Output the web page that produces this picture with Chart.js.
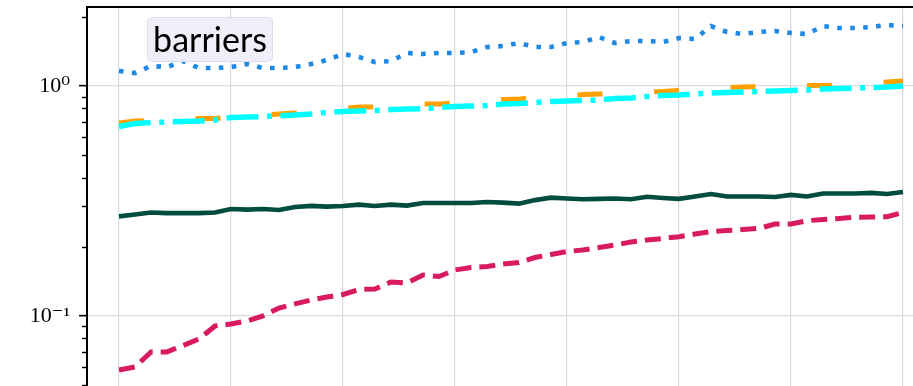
<!DOCTYPE html>
<html>
<head>
<meta charset="utf-8">
<script src="https://cdn.jsdelivr.net/npm/chart.js@4.4.1/dist/chart.umd.min.js"></script>
<style>
  html, body { margin: 0; padding: 0; background: #fff; overflow: hidden; }
  #wrap { position: relative; width: 913px; height: 386px; }
  #legendBox {
    position: absolute; left: 147px; top: 17px; width: 124px; height: 43px;
    border: 1px solid #dcdcef; border-radius: 5px;
    background: rgba(238, 238, 250, 0.92);
    font-family: Lato, "Noto Sans", sans-serif; font-size: 34px; color: #000;
    text-align: center; line-height: 42px;
  }
</style>
</head>
<body>
<div id="wrap">
  <canvas id="chart"></canvas>
  <div id="legendBox">barriers</div>
</div>
<script>
// x positions (step index)
const steps = [0,1,2,3,4,5,6,7,8,9,10,11,12,13,14,15,16,17,18,19,20,21,22,23,24,
  25,26,27,28,29,30,31,32,33,34,35,36,37,38,39,40,41,42,43,44,45,46,47,48,49];

const blueDotted = [1.162,1.139,1.222,1.209,1.284,1.197,1.197,1.209,1.246,1.197,
  1.197,1.209,1.246,1.297,1.378,1.337,1.271,1.284,1.392,1.378,
  1.392,1.392,1.405,1.477,1.492,1.538,1.477,1.477,1.538,1.553,
  1.633,1.538,1.569,1.569,1.553,1.617,1.601,1.823,1.718,1.683,
  1.718,1.735,1.700,1.683,1.823,1.787,1.787,1.805,1.842,1.823];

const orangeDashed = [0.690,0.704,0.708,0.712,0.719,0.722,0.722,0.733,0.741,0.748,
  0.756,0.763,0.775,0.787,0.798,0.810,0.810,0.818,0.827,0.835,
  0.835,0.844,0.852,0.865,0.874,0.878,0.887,0.896,0.909,0.918,
  0.923,0.928,0.932,0.942,0.947,0.956,0.966,0.975,0.985,0.990,
  0.995,1.000,1.000,1.005,1.005,1.010,1.020,1.030,1.041,1.051];

const cyanDashDot = [0.667,0.687,0.694,0.697,0.701,0.704,0.712,0.730,0.733,0.737,
  0.741,0.748,0.756,0.767,0.775,0.779,0.782,0.790,0.794,0.798,
  0.806,0.815,0.818,0.823,0.835,0.839,0.848,0.856,0.861,0.865,
  0.869,0.882,0.887,0.900,0.909,0.914,0.923,0.932,0.937,0.942,
  0.947,0.951,0.956,0.961,0.970,0.975,0.980,0.985,0.990,1.000];

const greenSolid = [0.271,0.276,0.282,0.280,0.280,0.280,0.282,0.292,0.290,0.292,
  0.289,0.298,0.301,0.299,0.301,0.305,0.301,0.305,0.302,0.310,
  0.310,0.310,0.310,0.313,0.311,0.308,0.319,0.327,0.324,0.322,
  0.323,0.324,0.322,0.330,0.326,0.323,0.331,0.339,0.331,0.331,
  0.331,0.329,0.336,0.331,0.341,0.341,0.341,0.343,0.339,0.346];

const pinkDashed = [0.0582,0.0600,0.0698,0.0698,0.0744,0.0794,0.0905,0.0923,0.0951,0.1000,
  0.1083,0.1128,0.1174,0.1209,0.1240,0.1304,0.1311,0.1405,0.1391,0.1508,
  0.1485,0.1585,0.1625,0.1641,0.1683,0.1708,0.1796,0.1851,0.1907,0.1936,
  0.1985,0.2035,0.2097,0.2140,0.2173,0.2212,0.2272,0.2325,0.2353,0.2377,
  0.2405,0.2512,0.2512,0.2596,0.2628,0.2654,0.2686,0.2694,0.2702,0.2818];

// axis ticks
const xGridTicks = [0, 7, 14, 21, 28, 35, 42, 49];
const yMajorTicks = [0.1, 1];
const yMinorTicks = [0.05,0.06,0.07,0.08,0.09,0.2,0.3,0.4,0.5,0.6,0.7,0.8,0.9,2];
const yLabels = { "0.1": "10\u207B\u00B9", "1": "10\u2070" };

const pts = arr => steps.map((s, i) => ({ x: s, y: arr[i] }));
const isMajor = v => yMajorTicks.some(m => Math.abs(m - v) < 1e-9);

const minorTicks = {
  id: "minorTicks",
  afterDraw(chart) {
    const y = chart.scales.y, ctx = chart.ctx, left = chart.chartArea.left;
    ctx.save();
    ctx.strokeStyle = "#000";
    ctx.lineWidth = 1.4;
    yMinorTicks.forEach(v => {
      const py = Math.round(y.getPixelForValue(v)) + 0.5;
      ctx.beginPath();
      ctx.moveTo(left - 5, py);
      ctx.lineTo(left, py);
      ctx.stroke();
    });
    ctx.restore();
  }
};

new Chart(document.getElementById("chart"), {
  type: "line",
  data: {
    datasets: [
      { data: pts(blueDotted), borderColor: "#1e88e5", borderWidth: 4.6, borderDash: [4.6, 8.4], order: 2 },
      { data: pts(orangeDashed), borderColor: "#ffa000", borderWidth: 5, borderDash: [25, 51.6], order: 1 },
      { data: pts(cyanDashDot), borderColor: "#00ffff", borderWidth: 5.5, borderDash: [32, 8.5, 5, 8.5], order: 0 },
      { data: pts(greenSolid), borderColor: "#004d40", borderWidth: 4.6, order: 3 },
      { data: pts(pinkDashed), borderColor: "#d81b60", borderWidth: 5, borderDash: [16, 8], order: 4 }
    ]
  },
  options: {
    responsive: true,
    maintainAspectRatio: false,
    animation: false,
    events: [],
    layout: { padding: { top: 7, right: 0, bottom: 0, left: 0 } },
    elements: { point: { radius: 0 }, line: { tension: 0, borderCapStyle: "butt", fill: false } },
    plugins: { legend: { display: false }, tooltip: { enabled: false } },
    scales: {
      x: {
        type: "linear",
        position: "top",
        min: -2,
        max: 49.625,
        afterBuildTicks: s => { s.ticks = xGridTicks.map(v => ({ value: v })); },
        afterFit: s => { s.height = 0; s.paddingLeft = 0; s.paddingRight = 0; },
        ticks: { display: false },
        grid: { color: "#dcdcdc", lineWidth: 1.3, drawTicks: false },
        border: { display: true, color: "#000", width: 2 }
      },
      y: {
        type: "logarithmic",
        min: 0.0496,
        max: 2.206,
        afterBuildTicks: s => { s.ticks = yMajorTicks.map(v => ({ value: v, major: true })); },
        afterFit: s => { s.width = 87; s.paddingTop = 0; s.paddingBottom = 0; },
        ticks: {
          autoSkip: false,
          padding: 9,
          color: "#000",
          font: { family: "'Liberation Serif', 'DejaVu Serif', serif", size: 22 },
          callback: v => yLabels[String(v)] || ""
        },
        grid: {
          color: c => isMajor(c.tick.value) ? "#dcdcdc" : "rgba(0,0,0,0)",
          tickColor: "#000",
          lineWidth: 1.3,
          tickWidth: 1.6,
          tickLength: 8
        },
        border: { display: true, color: "#000", width: 2 }
      }
    }
  },
  plugins: [minorTicks]
});
</script>
</body>
</html>
